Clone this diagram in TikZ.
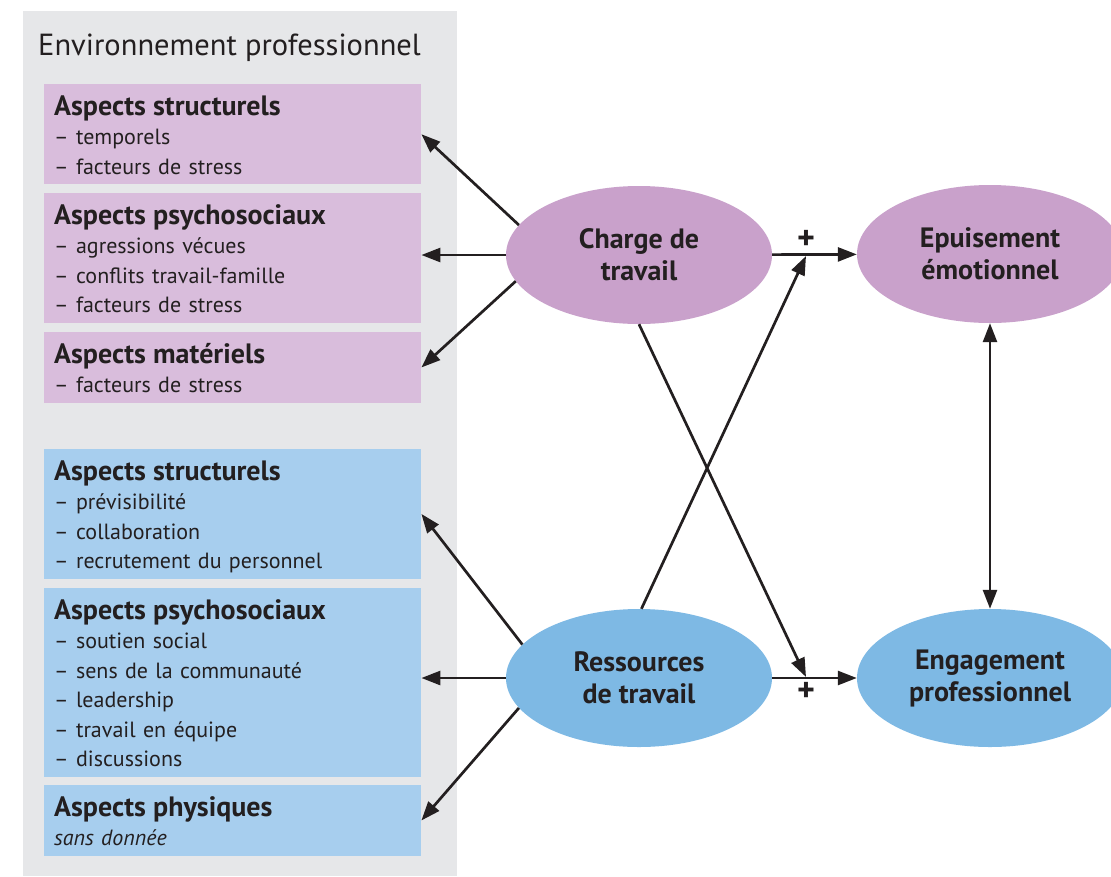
\documentclass[tikz,border=0pt]{standalone}
\usepackage{fontspec}
\setmainfont{PT Sans}
\usetikzlibrary{shapes.geometric,arrows.meta,positioning}

\definecolor{fondgris}{HTML}{E6E7E9}
\definecolor{violetclair}{HTML}{D9BDDC}
\definecolor{violet}{HTML}{C9A1CB}
\definecolor{bleuclair}{HTML}{A7CEEE}
\definecolor{bleu}{HTML}{7EB9E4}
\definecolor{encre}{HTML}{231F20}

\newcommand{\entete}[1]{\rule{0pt}{31pt}{\fontsize{28}{29.5}\selectfont\bfseries #1}}
\newcommand{\finbloc}{\rule[-10pt]{0pt}{10pt}}

\begin{document}
\begin{tikzpicture}[x=1pt,y=-1pt,
    bloc/.style={anchor=north west,text width=357pt,inner xsep=10pt,inner ysep=0pt,
      align=left,text=encre,font=\fontsize{22}{29.5}\selectfont},
    blocviolet/.style={bloc,fill=violetclair},
    blocbleu/.style={bloc,fill=bleuclair},
    facteur/.style={ellipse,minimum width=266pt,minimum height=138pt,inner sep=0pt,
      align=center,text=encre,font=\fontsize{28}{32}\selectfont\bfseries},
    fleche/.style={-{Triangle[length=19pt,width=14pt]},line width=2.7pt,draw=encre},
    fleche2/.style={{Triangle[length=19pt,width=14pt]}-{Triangle[length=19pt,width=14pt]},line width=2.7pt,draw=encre}]
    \clip (0,0) rectangle (1111,876);
    \useasboundingbox (0,0) rectangle (1111,876);
    % Environnement professionnel
    \fill[fondgris] (23,11) rectangle (457,876);
    \node[anchor=base west,inner sep=0pt,text=encre,font=\fontsize{30.5}{32}\selectfont] (titre) at (38,55) {Environnement professionnel};

    \node[blocviolet] (structC) at (44,84) {\entete{Aspects structurels}\\– temporels\\– facteurs de stress\finbloc};
    \node[blocviolet] (psychoC) at (44,193) {\entete{Aspects psychosociaux}\\– agressions vécues\\– conflits travail-famille\\– facteurs de stress\finbloc};
    \node[blocviolet] (materC) at (44,332) {\entete{Aspects matériels}\\– facteurs de stress\finbloc};

    \node[blocbleu] (structR) at (44,449) {\entete{Aspects structurels}\\– prévisibilité\\– collaboration\\– recrutement du personnel\finbloc};
    \node[blocbleu] (psychoR) at (44,588) {\entete{Aspects psychosociaux}\\– soutien social\\– sens de la communauté\\– leadership\\– travail en équipe\\– discussions\finbloc};
    \node[blocbleu] (physR) at (44,785) {\entete{Aspects physiques}\\\textit{sans donnée}\finbloc};

    % Modele
    \node[facteur,fill=violet] (charge) at (639,255) {Charge de\\travail};
    \node[facteur,fill=bleu] (ressources) at (639,678) {Ressources\\de travail};
    \node[facteur,fill=violet] (epuisement) at (990,254) {Epuisement\\émotionnel};
    \node[facteur,fill=bleu] (engagement) at (990,678) {Engagement\\professionnel};

    \coordinate (jhaut) at (806,256);
    \coordinate (jbas) at (806,677);

    \draw[fleche] (charge.166) -- (structC.east);
    \draw[fleche] (charge) -- (charge -| psychoC.east);
    \draw[fleche] (charge.192) -- (materC.east);
    \draw[fleche] (ressources.164) -- (structR.east);
    \draw[fleche] (ressources) -- (ressources -| psychoR.east);
    \draw[fleche] (ressources.194) -- (physR.east);

    \draw[fleche] (charge) -- node[above=0pt,pos=0.4,font=\fontsize{34}{34}\selectfont\bfseries,text=encre] (plushaut) {+} (epuisement);
    \draw[fleche] (ressources) -- node[below=0pt,pos=0.4,font=\fontsize{34}{34}\selectfont\bfseries,text=encre] (plusbas) {+} (engagement);
    \draw[fleche] (ressources.88) -- (jhaut);
    \draw[fleche] (charge.270) -- (jbas);
    \draw[fleche2] (epuisement) -- (engagement);
\end{tikzpicture}
\end{document}
